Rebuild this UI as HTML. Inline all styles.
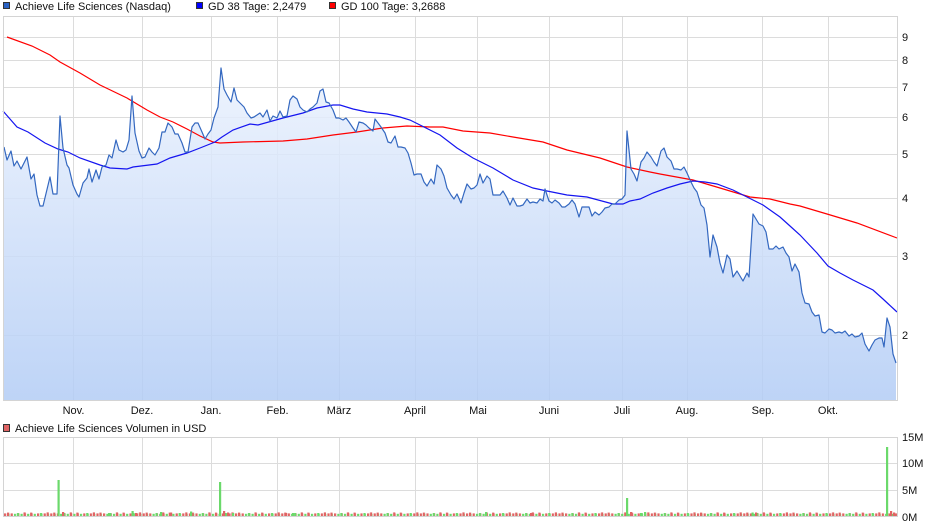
<!DOCTYPE html>
<html><head><meta charset="utf-8"><style>
html,body{margin:0;padding:0;background:#fff;}
svg{display:block;}
text{font-family:"Liberation Sans",Arial,sans-serif;font-size:11px;fill:#111;}
</style></head><body>
<svg width="940" height="526" viewBox="0 0 940 526" xmlns="http://www.w3.org/2000/svg">
<defs>
<linearGradient id="g" x1="0" y1="16" x2="0" y2="401" gradientUnits="userSpaceOnUse">
<stop offset="0" stop-color="#f4f8ff"/>
<stop offset="1" stop-color="#b2ccf5"/>
</linearGradient>
<pattern id="vp" x="4" y="0" width="6.6" height="526" patternUnits="userSpaceOnUse">
<rect x="0" y="513.4" width="2.2" height="3.3" fill="#e06464"/>
<rect x="3.3" y="513.8" width="2.2" height="2.9" fill="#6bd96b"/>
</pattern>
<pattern id="vp2" x="7" y="0" width="23.1" height="526" patternUnits="userSpaceOnUse">
<rect x="0" y="512.6" width="2.2" height="4.1" fill="#e06464"/>
<rect x="9.9" y="513" width="2.2" height="3.7" fill="#6bd96b"/>
<rect x="16.5" y="512.4" width="2.2" height="4.3" fill="#e06464"/>
</pattern>
</defs>
<!-- legend top -->
<rect x="3.5" y="2.5" width="6" height="6" fill="#2a62c4" stroke="#333" stroke-width="1"/>
<text x="15" y="10">Achieve Life Sciences (Nasdaq)</text>
<rect x="196.5" y="2.5" width="6" height="6" fill="#0000ff" stroke="#333" stroke-width="1"/>
<text x="208" y="10">GD 38 Tage: 2,2479</text>
<rect x="329.5" y="2.5" width="6" height="6" fill="#ff0000" stroke="#333" stroke-width="1"/>
<text x="341" y="10">GD 100 Tage: 3,2688</text>

<!-- main plot grid -->
<g stroke="#dcdcdc" stroke-width="1">
<line x1="3" y1="37.5" x2="898" y2="37.5"/>
<line x1="3" y1="60.5" x2="898" y2="60.5"/>
<line x1="3" y1="87.5" x2="898" y2="87.5"/>
<line x1="3" y1="117.5" x2="898" y2="117.5"/>
<line x1="3" y1="154.5" x2="898" y2="154.5"/>
<line x1="3" y1="198.5" x2="898" y2="198.5"/>
<line x1="3" y1="256.5" x2="898" y2="256.5"/>
<line x1="3" y1="335.5" x2="898" y2="335.5"/>
<line x1="73.5" y1="16" x2="73.5" y2="401"/>
<line x1="142.5" y1="16" x2="142.5" y2="401"/>
<line x1="211.5" y1="16" x2="211.5" y2="401"/>
<line x1="277.5" y1="16" x2="277.5" y2="401"/>
<line x1="339.5" y1="16" x2="339.5" y2="401"/>
<line x1="415.5" y1="16" x2="415.5" y2="401"/>
<line x1="477.5" y1="16" x2="477.5" y2="401"/>
<line x1="549.5" y1="16" x2="549.5" y2="401"/>
<line x1="622.5" y1="16" x2="622.5" y2="401"/>
<line x1="687.5" y1="16" x2="687.5" y2="401"/>
<line x1="762.5" y1="16" x2="762.5" y2="401"/>
<line x1="828.5" y1="16" x2="828.5" y2="401"/>
</g>

<!-- area fill -->
<polygon fill="url(#g)" fill-opacity="0.85" points="4,401 4,147 7,160 11,151 14,166 17,161 21,169 27,157 31,179 34,174 37,195 40,206 43,206 50,177 53,194 57,194 60,116 63,148 67,165 69,168 73,185 77,194 79,197 83,183 87,178 89,169 92,182 96,170 99,179 102,167 106,165 109,155 112,158 116,140 119,150 123,152 126,150 129,140 132,96 135,133 139,151 142,158 145,157 149,148 152,152 155,155 159,148 162,132 165,132 168,123 172,127 175,134 178,134 182,143 185,152 188,152 192,127 195,123 198,123 202,132 205,139 208,134 211,130 214,118 218,107 221,68 224,89 227,95 231,102 234,88 237,100 241,104 244,107 247,113 251,118 254,117 257,115 260,113 263,117 267,110 270,121 273,116 277,118 280,111 283,117 287,116 290,100 293,96 297,99 300,107 303,110 307,112 310,109 313,107 317,103 320,91 323,89 326,102 329,103 333,110 336,118 339,118 343,120 346,118 349,122 353,128 356,132 359,122 363,123 366,125 369,128 373,131 375,119 378,123 381,127 385,133 388,142 391,143 395,136 398,147 401,147 405,148 408,153 411,163 414,175 417,174 421,174 424,182 427,186 431,179 434,184 437,165 441,169 444,176 447,188 451,195 454,199 457,194 461,203 464,193 467,184 471,189 474,188 477,185 480,174 483,183 487,176 490,179 493,195 497,195 500,195 503,191 507,198 510,205 513,198 517,206 520,206 523,205 527,199 530,203 533,202 537,203 540,199 543,201 545,189 549,201 552,203 555,200 559,203 562,207 565,207 569,204 572,200 575,204 579,217 582,207 585,207 589,207 592,216 595,212 599,215 602,212 605,208 609,207 612,204 615,204 619,200 622,199 625,195 627,131 631,169 634,174 637,181 641,162 644,158 647,152 651,157 654,162 657,166 661,151 664,148 667,157 671,161 674,169 677,169 681,170 684,167 687,173 691,182 694,188 697,192 701,205 704,208 707,225 710,257 713,235 717,247 720,263 723,273 727,255 730,259 733,277 737,271 740,276 743,281 747,273 749,277 753,214 756,219 759,224 763,226 766,232 769,249 773,249 776,246 779,249 783,247 786,253 789,257 792,271 795,264 799,272 802,293 805,303 809,304 812,312 815,316 819,315 822,332 825,333 829,329 832,330 835,333 839,332 842,333 845,331 849,336 852,334 855,337 859,336 862,333 865,344 869,351 872,345 875,340 879,338 882,338 884,347 887,318 890,327 893,354 896,363 896,401"/>

<!-- GD100 -->
<polyline fill="none" stroke="#ff0000" stroke-width="1.2" points="7,37 32,46 50,55 60,62 80,73 100,85 127,98 147,110 160,117 173,122 187,129 200,136 213,142 220,143 243,142 283,141 307,139 333,135 357,132 383,128 407,126 430,127 443,127 463,131 490,133 513,137 543,142 567,150 600,158 627,167 650,172 660,174 693,180 720,188 750,197 770,199 790,204 800,206 827,214 857,223 897,238"/>
<!-- GD38 -->
<polyline fill="none" stroke="#1515f0" stroke-width="1.2" points="3,111 17,127 28,132 45,143 58,149 68,152 80,158 100,165 110,168 127,169 133,167 157,164 170,158 187,153 200,148 215,142 222,137 233,130 250,124 258,125 283,118 303,113 317,108 333,105 340,105 353,109 367,112 387,114 400,117 410,120 420,125 440,135 457,148 473,158 493,168 513,180 533,188 547,191 567,195 587,197 613,204 623,204 630,201 640,199 653,193 667,188 680,184 693,181 705,182 717,184 733,190 747,197 763,205 780,217 790,226 800,235 817,253 828,266 840,273 853,280 873,290 883,299 897,312"/>
<!-- price -->
<polyline fill="none" stroke="#3468c0" stroke-width="1.2" stroke-linejoin="round" points="4,147 7,160 11,151 14,166 17,161 21,169 27,157 31,179 34,174 37,195 40,206 43,206 50,177 53,194 57,194 60,116 63,148 67,165 69,168 73,185 77,194 79,197 83,183 87,178 89,169 92,182 96,170 99,179 102,167 106,165 109,155 112,158 116,140 119,150 123,152 126,150 129,140 132,96 135,133 139,151 142,158 145,157 149,148 152,152 155,155 159,148 162,132 165,132 168,123 172,127 175,134 178,134 182,143 185,152 188,152 192,127 195,123 198,123 202,132 205,139 208,134 211,130 214,118 218,107 221,68 224,89 227,95 231,102 234,88 237,100 241,104 244,107 247,113 251,118 254,117 257,115 260,113 263,117 267,110 270,121 273,116 277,118 280,111 283,117 287,116 290,100 293,96 297,99 300,107 303,110 307,112 310,109 313,107 317,103 320,91 323,89 326,102 329,103 333,110 336,118 339,118 343,120 346,118 349,122 353,128 356,132 359,122 363,123 366,125 369,128 373,131 375,119 378,123 381,127 385,133 388,142 391,143 395,136 398,147 401,147 405,148 408,153 411,163 414,175 417,174 421,174 424,182 427,186 431,179 434,184 437,165 441,169 444,176 447,188 451,195 454,199 457,194 461,203 464,193 467,184 471,189 474,188 477,185 480,174 483,183 487,176 490,179 493,195 497,195 500,195 503,191 507,198 510,205 513,198 517,206 520,206 523,205 527,199 530,203 533,202 537,203 540,199 543,201 545,189 549,201 552,203 555,200 559,203 562,207 565,207 569,204 572,200 575,204 579,217 582,207 585,207 589,207 592,216 595,212 599,215 602,212 605,208 609,207 612,204 615,204 619,200 622,199 625,195 627,131 631,169 634,174 637,181 641,162 644,158 647,152 651,157 654,162 657,166 661,151 664,148 667,157 671,161 674,169 677,169 681,170 684,167 687,173 691,182 694,188 697,192 701,205 704,208 707,225 710,257 713,235 717,247 720,263 723,273 727,255 730,259 733,277 737,271 740,276 743,281 747,273 749,277 753,214 756,219 759,224 763,226 766,232 769,249 773,249 776,246 779,249 783,247 786,253 789,257 792,271 795,264 799,272 802,293 805,303 809,304 812,312 815,316 819,315 822,332 825,333 829,329 832,330 835,333 839,332 842,333 845,331 849,336 852,334 855,337 859,336 862,333 865,344 869,351 872,345 875,340 879,338 882,338 884,347 887,318 890,327 893,354 896,363"/>

<!-- main border -->
<rect x="3.5" y="16.5" width="894" height="384" fill="none" stroke="#d4d4d4" stroke-width="1"/>

<!-- right axis labels -->
<text x="902" y="41">9</text>
<text x="902" y="64">8</text>
<text x="902" y="91">7</text>
<text x="902" y="121">6</text>
<text x="902" y="158">5</text>
<text x="902" y="202">4</text>
<text x="902" y="260">3</text>
<text x="902" y="339">2</text>

<!-- month labels -->
<g text-anchor="middle">
<text x="73.5" y="414">Nov.</text>
<text x="142" y="414">Dez.</text>
<text x="211" y="414">Jan.</text>
<text x="277.5" y="414">Feb.</text>
<text x="339" y="414">März</text>
<text x="415" y="414">April</text>
<text x="478" y="414">Mai</text>
<text x="549" y="414">Juni</text>
<text x="622" y="414">Juli</text>
<text x="687" y="414">Aug.</text>
<text x="763" y="414">Sep.</text>
<text x="828" y="414">Okt.</text>
</g>

<!-- volume legend -->
<rect x="3.5" y="424.5" width="6" height="7" fill="#e06464" stroke="#333" stroke-width="1"/>
<text x="15" y="432">Achieve Life Sciences Volumen in USD</text>

<!-- volume grid -->
<g stroke="#dcdcdc" stroke-width="1">
<line x1="3" y1="463.5" x2="898" y2="463.5"/>
<line x1="3" y1="490.5" x2="898" y2="490.5"/>
<line x1="73.5" y1="438" x2="73.5" y2="517"/>
<line x1="142.5" y1="438" x2="142.5" y2="517"/>
<line x1="211.5" y1="438" x2="211.5" y2="517"/>
<line x1="277.5" y1="438" x2="277.5" y2="517"/>
<line x1="339.5" y1="438" x2="339.5" y2="517"/>
<line x1="415.5" y1="438" x2="415.5" y2="517"/>
<line x1="477.5" y1="438" x2="477.5" y2="517"/>
<line x1="549.5" y1="438" x2="549.5" y2="517"/>
<line x1="622.5" y1="438" x2="622.5" y2="517"/>
<line x1="687.5" y1="438" x2="687.5" y2="517"/>
<line x1="762.5" y1="438" x2="762.5" y2="517"/>
<line x1="828.5" y1="438" x2="828.5" y2="517"/>
</g>
<!-- volume bars -->
<rect x="4" y="510" width="893" height="6.7" fill="url(#vp)"/>
<rect x="4" y="510" width="880" height="6.7" fill="url(#vp2)"/>
<g fill="#e06464">
<rect x="62" y="512" width="2.2" height="4.7"/>
<rect x="135" y="513" width="2.2" height="3.7"/>
<rect x="170" y="512.5" width="2.2" height="4.2"/>
<rect x="223" y="511" width="2.2" height="5.7"/>
<rect x="227" y="512.5" width="2.2" height="4.2"/>
<rect x="630" y="512" width="2.2" height="4.7"/>
<rect x="755" y="512.5" width="2.2" height="4.2"/>
<rect x="890" y="511" width="2.2" height="5.7"/>
<rect x="893" y="512.5" width="2.2" height="4.2"/>
<rect x="285" y="513" width="2.2" height="3.7"/>
<rect x="530" y="513" width="2.2" height="3.7"/>
<rect x="700" y="513" width="2.2" height="3.7"/>
</g>
<g fill="#6bd96b">
<rect x="57.5" y="480" width="2.2" height="36.7"/>
<rect x="219" y="482" width="2.2" height="34.7"/>
<rect x="626" y="498" width="2.2" height="18.7"/>
<rect x="886" y="447" width="2.2" height="69.7"/>
<rect x="108" y="513" width="2.2" height="3.7"/>
<rect x="131.5" y="511" width="2.2" height="5.7"/>
<rect x="160" y="512" width="2.2" height="4.7"/>
<rect x="190" y="511.5" width="2.2" height="5.2"/>
<rect x="232" y="513" width="2.2" height="3.7"/>
<rect x="292" y="513" width="2.2" height="3.7"/>
<rect x="640" y="513" width="2.2" height="3.7"/>
<rect x="644" y="512" width="2.2" height="4.7"/>
<rect x="751.5" y="512.5" width="2.2" height="4.2"/>
<rect x="485" y="512" width="2.2" height="4.7"/>
</g>
<rect x="3.5" y="437.5" width="894" height="79" fill="none" stroke="#d4d4d4" stroke-width="1"/>

<!-- volume labels -->
<text x="902" y="441">15M</text>
<text x="902" y="467">10M</text>
<text x="902" y="494">5M</text>
<text x="902" y="521">0M</text>
</svg>
</body></html>
